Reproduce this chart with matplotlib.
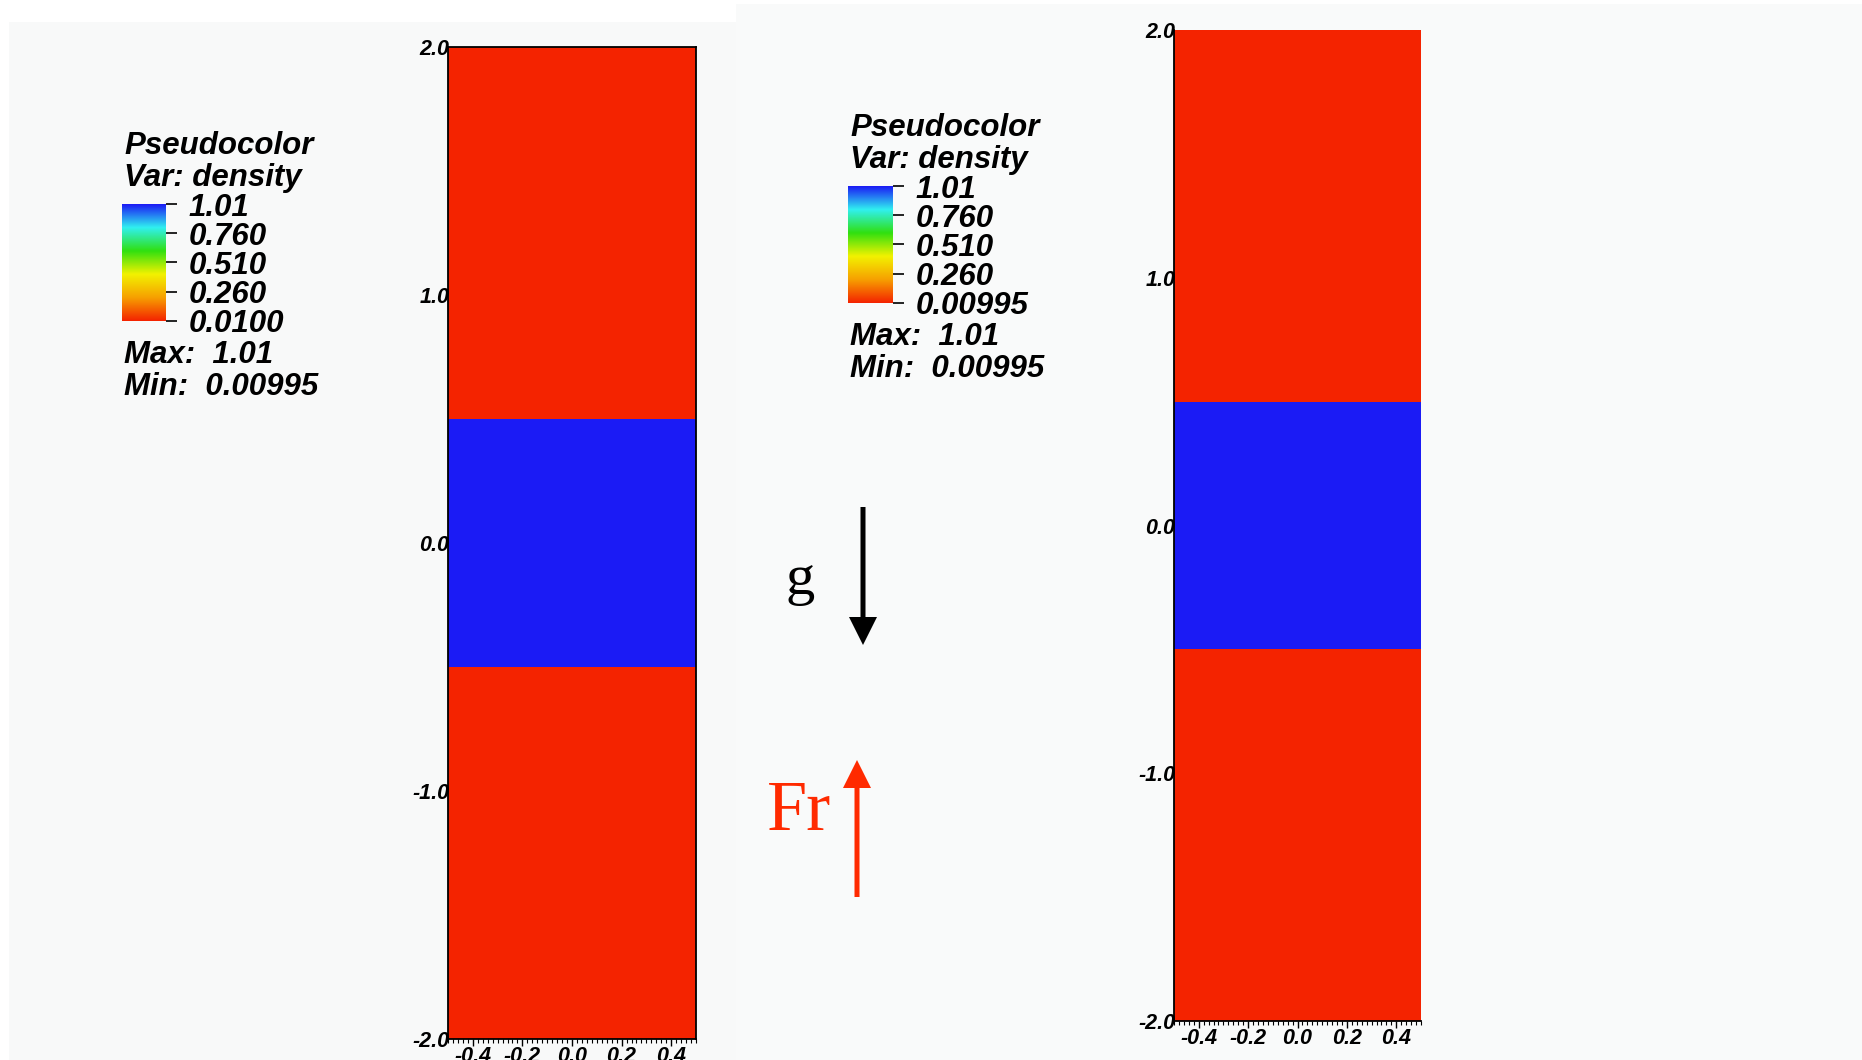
import numpy as np
import matplotlib
matplotlib.use('Agg')
from matplotlib import pyplot as plt
from matplotlib.colors import LinearSegmentedColormap, Normalize
from matplotlib.patches import Rectangle
from matplotlib.ticker import MultipleLocator, FixedLocator

# density field: three horizontal layers over x in [-0.5, 0.5]
x_edges = [-0.5, 0.5]
y_edges = [-2.0, -0.5, 0.5, 2.0]
density = [0.00995, 1.01, 0.00995]

y_ticks = [-2.0, -1.0, 0.0, 1.0, 2.0]
x_ticks = [-0.4, -0.2, 0.0, 0.2, 0.4]

# legend ranges (left / right panel)
cb_left_ticks = [0.0100, 0.260, 0.510, 0.760, 1.01]
cb_left_labels = ['0.0100', '0.260', '0.510', '0.760', '1.01']
cb_right_ticks = [0.00995, 0.260, 0.510, 0.760, 1.01]
cb_right_labels = ['0.00995', '0.260', '0.510', '0.760', '1.01']
dmax = 1.01
dmin = 0.00995

cmap = LinearSegmentedColormap.from_list(
  'visit_hot', ['#f42300', '#f7a000', '#f2f200', '#30e010', '#30f0f0', '#1b1bf5'])

W, H = 1862, 1060
fig = plt.figure(figsize=[W / 100., H / 100.], dpi=100)
fig.patch.set_facecolor('white')

def fr(x0, y0, x1, y1):
  # pixel box (top-left origin) -> figure fraction rect
  return [x0 / W, 1 - y1 / H, (x1 - x0) / W, (y1 - y0) / H]

# two screenshot panels behind
fig.patches.append(Rectangle((9 / W, 0), (736 - 9) / W, 1 - 22 / H,
                             transform=fig.transFigure, facecolor='#f8f9f9',
                             edgecolor='none', zorder=-10))
fig.patches.append(Rectangle((736 / W, 0), 1 - 736 / W, 1 - 4 / H,
                             transform=fig.transFigure, facecolor='#f9fafa',
                             edgecolor='none', zorder=-10))

tickfont = dict(family='Liberation Sans', weight='bold', style='italic', size=15.5)
legfont = dict(family='Liberation Sans', weight='bold', style='italic', size=22.5)

Z = np.array(density).reshape(-1, 1)
norm = Normalize(dmin, dmax)

def plotField(rect, boxed):
  ax = fig.add_axes(rect)
  ax.pcolormesh(x_edges, y_edges, Z, cmap=cmap, norm=norm, shading='flat')
  ax.set_xlim(-0.5, 0.5)
  ax.set_ylim(-2.0, 2.0)
  ax.yaxis.set_major_locator(FixedLocator(y_ticks))
  ax.xaxis.set_major_locator(FixedLocator(x_ticks))
  ax.xaxis.set_minor_locator(MultipleLocator(0.02))
  ax.set_yticklabels(['%.1f' % v for v in y_ticks], fontdict=tickfont)
  ax.set_xticklabels(['%.1f' % v for v in x_ticks], fontdict=tickfont)
  ax.tick_params(axis='y', length=0, pad=-1)
  ax.tick_params(axis='x', which='major', length=5, width=1, pad=0, direction='out')
  ax.tick_params(axis='x', which='minor', length=3, width=0.8, direction='out')
  for s in ['top', 'right']:
    ax.spines[s].set_visible(boxed)
  for s in ax.spines.values():
    s.set_linewidth(1.3)
  ax.patch.set_alpha(0)
  return ax

def plotLegend(cbrect, tx, tys, ticks, labels):
  cax = fig.add_axes(cbrect)
  grad = np.linspace(dmin, dmax, 256).reshape(-1, 1)
  cax.imshow(grad, origin='lower', aspect='auto', cmap=cmap, norm=norm,
             extent=[0, 1, ticks[0], ticks[-1]])
  cax.set_xticks([])
  cax.yaxis.tick_right()
  cax.set_yticks(ticks)
  cax.set_yticklabels(labels, fontdict=legfont)
  cax.tick_params(axis='y', length=8, width=1.2, pad=8)
  for s in cax.spines.values():
    s.set_visible(False)
  txts = ['Pseudocolor', 'Var: density', 'Max:  1.01', 'Min:  0.00995']
  for t, y in zip(txts, tys):
    fig.text(tx / W, 1 - y / H, t, va='center', ha='left', **legfont)

plotField(fr(448, 47, 696, 1039), True)
plotField(fr(1174, 30, 1421, 1021), False)

plotLegend(fr(122, 204, 166, 321), 124, [146, 178, 355, 387], cb_left_ticks, cb_left_labels)
plotLegend(fr(848, 186, 893, 303), 850, [128, 160, 337, 369], cb_right_ticks, cb_right_labels)

# gravity and force arrows
ov = fig.add_axes([0, 0, 1, 1])
ov.set_xlim(0, W)
ov.set_ylim(H, 0)
ov.axis('off')
ov.arrow(863, 507, 0, 138, width=5, head_width=28, head_length=28,
         length_includes_head=True, color='black', lw=0)
ov.arrow(857, 897, 0, -137, width=5, head_width=28, head_length=28,
         length_includes_head=True, color='#ff2a00', lw=0)
ov.text(800, 580, 'g', family='Liberation Serif', size=42, ha='center', va='center')
ov.text(799, 813, 'Fr', family='Liberation Serif', size=52, ha='center', va='center',
        color='#ff2a00')

fig.savefig('out.png', dpi=100)
